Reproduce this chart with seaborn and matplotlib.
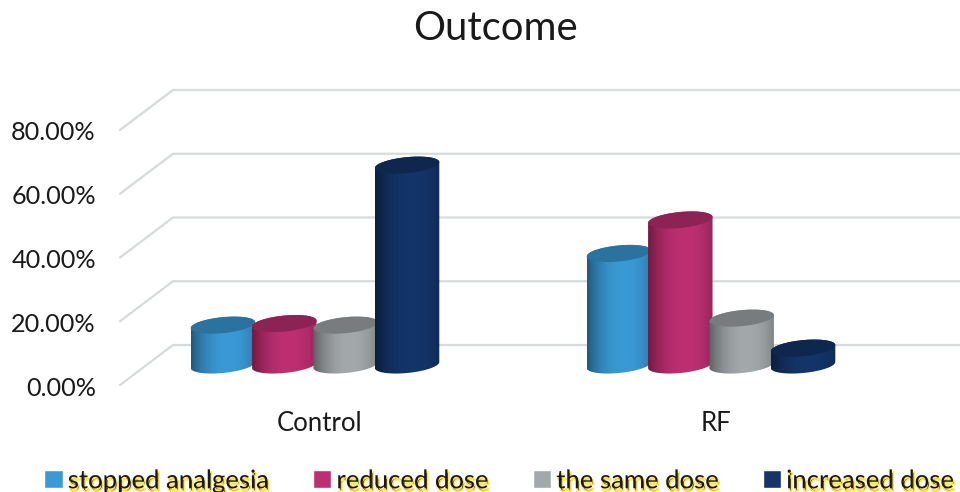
import numpy as np
import pandas as pd
import matplotlib
matplotlib.use("Agg")
import matplotlib.pyplot as plt
import matplotlib.patheffects as pe
from matplotlib.colors import to_rgb
from matplotlib.patches import Polygon
from matplotlib.transforms import ScaledTranslation
import seaborn as sns

groups = ["Control", "RF"]
outcomes = ["stopped analgesia", "reduced dose", "the same dose", "increased dose"]
stopped = [12.5, 35.0]
reduced = [13.0, 45.5]
same = [12.5, 14.7]
increased = [62.7, 5.3]
colors = ["#3A9AD6", "#BE2F72", "#A3A8AB", "#14356A"]
ticks = [0, 20, 40, 60, 80]
tick_labels = ["0.00%", "20.00%", "40.00%", "60.00%", "80.00%"]

df = pd.DataFrame({
    "group": groups * 4,
    "outcome": np.repeat(outcomes, 2),
    "value": stopped + reduced + same + increased,
})

sns.set_style("white")
plt.rcParams["font.family"] = ["Lato", "DejaVu Sans"]
TXT = "#1a1a1a"

W, H = 960, 492
fig = plt.figure(figsize=(W / 100, H / 100), dpi=100)
# axes box in pixels: x 100..960, y 60..392
ax = fig.add_axes([100 / W, 1 - 392 / H, 860 / W, 332 / H])

PX_Y = 3.1875  # pixels per percent
PX_X = 396.0   # pixels per category
x0, y0 = 315.0, 365.0
xlim = ((100 - x0) / PX_X, (960 - x0) / PX_X)
ylim = ((y0 - 392) / PX_Y, (y0 - 60) / PX_Y)

sns.barplot(data=df, x="group", y="value", hue="outcome", hue_order=outcomes,
            palette=colors, width=0.62, gap=0, saturation=1, ax=ax)

sns.move_legend(ax, "lower left", bbox_to_anchor=(-0.065, -0.305), ncol=4, title=None,
                frameon=False, fontsize=18.5, handlelength=0.72, handleheight=0.72,
                handletextpad=0.2, columnspacing=1.68, borderpad=0, borderaxespad=0)
for t in ax.get_legend().get_texts():
    t.set_color(TXT)
    t.set_path_effects([pe.Stroke(offset=(1, -2), linewidth=1.2, foreground="#FFE45C"),
                        pe.Normal()])

# 3D floor / wall grid lines
depth = 20 / PX_Y
xb, xf = (173 - x0) / PX_X, (120 - x0) / PX_X
for v in ticks:
    ax.plot([xf, xb, xlim[1]], [v - depth, v + depth, v + depth],
            color="#D6DADB", lw=1.6, zorder=1, clip_on=False, solid_joinstyle="miter")

# turn the flat bars into cylinders
tt = np.linspace(0, 2 * np.pi, 121)
a_scale = 1.05
b = 8.0 / PX_Y
k = 3.0 / PX_Y
for i, bar in enumerate(ax.patches):
    bar.set_visible(False)
    cx = bar.get_x() + bar.get_width() / 2
    a = bar.get_width() / 2 * a_scale
    top = bar.get_height()
    base = np.array(to_rgb(bar.get_facecolor()))
    z = 3 + i // 2

    def ring(cy, t):
        return np.column_stack([cx + a * np.cos(t), cy + b * np.sin(t) + k * np.cos(t)])

    low = ring(0, np.linspace(np.pi, 2 * np.pi, 61))
    up = ring(top, np.linspace(0, np.pi, 61))
    body = Polygon(np.vstack([low, up]), closed=True, transform=ax.transData,
                   fc="none", ec="none")
    ax.add_patch(body)

    u = np.linspace(0, 1, 80)
    shade = 1 - 0.42 * np.abs((u - 0.58) / 0.58) ** 2.2
    grad = (shade[None, :, None] * base[None, None, :]).clip(0, 1)
    im = ax.imshow(grad, extent=(cx - a, cx + a, -3, top + 3), aspect="auto",
                   zorder=z, interpolation="bilinear")
    im.set_clip_path(body)
    ax.add_patch(Polygon(ring(top, tt), closed=True, fc=base * 0.74, ec="none", zorder=z + 0.1))

ax.set_xlim(xlim)
ax.set_ylim(ylim)
ax.set_xlabel("")
ax.set_ylabel("")
ax.set_yticks(ticks, tick_labels)
ax.tick_params(axis="y", length=0, pad=3, labelsize=18.2, labelcolor=TXT)
ax.tick_params(axis="x", length=0, pad=14, labelsize=18.5, labelcolor=TXT)
# value labels sit at the front edge of the floor
shift = ScaledTranslation(0, -21 / 100, fig.dpi_scale_trans)
for lab in ax.get_yticklabels():
    lab.set_transform(lab.get_transform() + shift)
nudge = ScaledTranslation(5 / 100, 0, fig.dpi_scale_trans)
for lab in ax.get_xticklabels():
    lab.set_transform(lab.get_transform() + nudge)
sns.despine(ax=ax, left=True, bottom=True)

fig.text(495 / W, 1 - 29 / H, "Outcome", ha="center", va="center", fontsize=28.8, color=TXT)

fig.savefig("out.png", dpi=100)
